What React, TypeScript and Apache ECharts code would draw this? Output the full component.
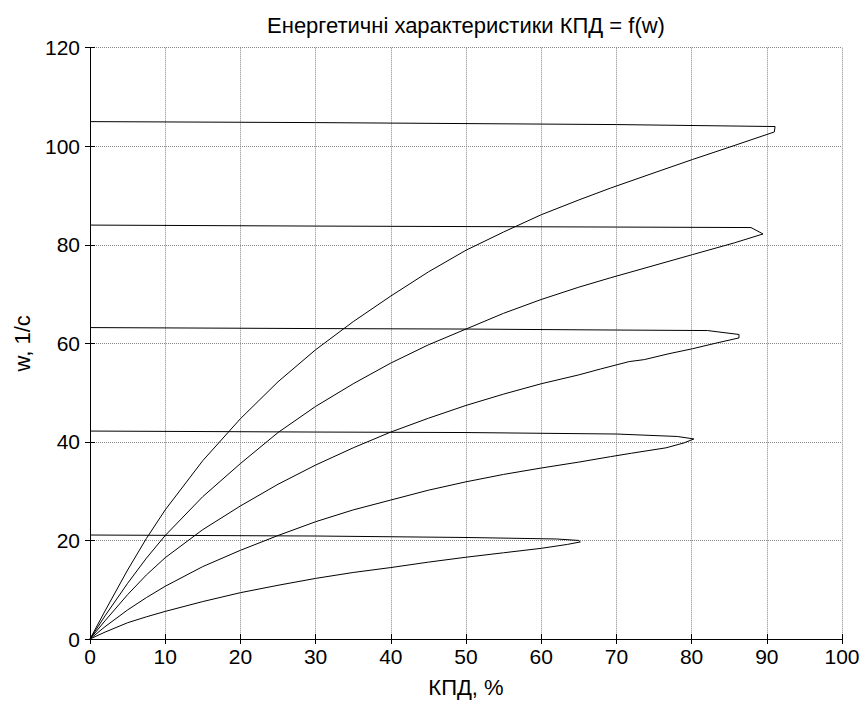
import React, { useEffect, useRef } from "react";
import * as echarts from "echarts";

// Efficiency (x, %) vs angular speed (y, 1/c) — five closed characteristics
const curve20: [number, number][] = [
  [0, 0], [2, 1.4], [5, 3.3], [7.5, 4.5], [10, 5.6], [15, 7.6], [20, 9.4], [25, 10.9], [30, 12.3],
  [35, 13.5], [40, 14.5], [45, 15.6], [50, 16.6], [55, 17.5], [60, 18.4], [63.5, 19.2],
  [65.2, 19.7], [65, 20.0], [62, 20.3], [50, 20.6], [30, 20.9], [0, 21.1],
];
const curve40: [number, number][] = [
  [0, 0], [2, 2.5], [5, 5.9], [7.5, 8.4], [10, 10.7], [15, 14.7], [20, 18], [25, 21], [30, 23.8],
  [35, 26.2], [40, 28.2], [45, 30.2], [50, 31.9], [55, 33.4], [60, 34.7], [65, 35.9],
  [69.2, 37], [72, 37.7], [76.6, 38.8], [79, 39.8], [80.3, 40.6], [78.1, 41.1],
  [70, 41.6], [50, 41.9], [30, 42.0], [0, 42.2],
];
const curve60: [number, number][] = [
  [0, 0], [2, 3.7], [5, 9], [7.5, 13], [10, 16.5], [15, 22.2], [20, 27], [25, 31.4], [30, 35.3],
  [35, 38.8], [40, 42], [45, 44.8], [50, 47.4], [55, 49.7], [60, 51.8], [65, 53.6],
  [67.9, 54.8], [71.7, 56.3], [73.7, 56.7], [77, 57.9], [80.1, 58.9], [83.4, 60.1],
  [86.3, 61.1], [86.3, 61.8], [82.1, 62.6], [70, 62.7], [50, 62.9], [30, 63.0], [0, 63.2],
];
const curve80: [number, number][] = [
  [0, 0], [2, 4.7], [5, 11.3], [7.5, 16.4], [10, 21], [15, 28.9], [20, 35.6], [25, 41.9], [30, 47.2],
  [35, 51.8], [40, 56], [45, 59.7], [50, 62.9], [55, 66.1], [60, 68.9], [65, 71.4],
  [69.2, 73.3], [75, 75.8], [80.1, 78], [85.7, 80.4], [89.5, 82.2], [87.9, 83.5],
  [70, 83.6], [50, 83.7], [30, 83.8], [0, 84],
];
const curve100: [number, number][] = [
  [0, 0], [2, 5.7], [5, 14], [7.5, 20.4], [10, 26.2], [15, 36.2], [20, 44.7], [25, 52.2], [30, 58.7],
  [35, 64.4], [40, 69.6], [45, 74.5], [50, 78.9], [55, 82.6], [60, 86.1], [65, 89.1],
  [69.2, 91.5], [75, 94.6], [80.1, 97.3], [85, 99.8], [91, 102.9], [91.1, 104.0],
  [70, 104.4], [50, 104.6], [30, 104.8], [0, 105],
];
const curves = [curve20, curve40, curve60, curve80, curve100];

const titleText = "Енергетичні характеристики КПД = f(w)";
const xName = "КПД, %";
const yName = "w, 1/c";

export default function App() {
  const ref = useRef<HTMLDivElement>(null);
  useEffect(() => {
    if (!ref.current) return;
    const chart = echarts.init(ref.current, undefined, { renderer: "svg" });
    const font = "Liberation Sans, Arial, sans-serif";
    const dotted = { show: true, lineStyle: { color: "#888", type: [1, 1] as any, width: 1 } };
    chart.setOption({
      animation: false,
      backgroundColor: "#fff",
      title: {
        text: titleText,
        left: 461,
        top: 9,
        textAlign: "center",
        textStyle: { fontFamily: font, fontSize: 22, fontWeight: "normal", color: "#000" },
      },
      grid: { left: 90, right: 22, top: 47.7, bottom: 63.5, containLabel: false },
      xAxis: [
        {
          type: "value", min: 0, max: 100, interval: 10,
          name: xName, nameLocation: "middle", nameGap: 37,
          nameTextStyle: { fontFamily: font, fontSize: 22, color: "#000" },
          axisLine: { show: true, onZero: false, lineStyle: { color: "#000", width: 1 } },
          axisTick: { show: true, inside: true, length: 5, lineStyle: { color: "#000" } },
          axisLabel: { fontFamily: font, fontSize: 21, color: "#000", margin: 7 },
          splitLine: dotted,
        },
        {
          type: "value", min: 0, max: 100, interval: 10, position: "top",
          axisLine: { show: false },
          axisTick: { show: true, inside: true, length: 5, lineStyle: { color: "#000" } },
          axisLabel: { show: false },
          splitLine: { show: false },
        },
      ],
      yAxis: [
        {
          type: "value", min: 0, max: 120, interval: 20,
          name: yName, nameLocation: "middle", nameGap: 57,
          nameTextStyle: { fontFamily: font, fontSize: 22, color: "#000" },
          axisLine: { show: true, onZero: false, lineStyle: { color: "#000", width: 1 } },
          axisTick: { show: true, inside: true, length: 5, lineStyle: { color: "#000" } },
          axisLabel: { fontFamily: font, fontSize: 21, color: "#000", margin: 10 },
          splitLine: dotted,
        },
        {
          type: "value", min: 0, max: 120, interval: 20, position: "right",
          axisLine: { show: false },
          axisTick: { show: true, inside: true, length: 5, lineStyle: { color: "#000" } },
          axisLabel: { show: false },
          splitLine: { show: false },
        },
      ],
      series: curves.map((c, i) => ({
        name: "c" + i,
        type: "line",
        data: c,
        showSymbol: false,
        symbol: "none",
        lineStyle: { color: "#000", width: 1 },
        xAxisIndex: 0,
        yAxisIndex: 0,
      })),
    });
    return () => chart.dispose();
  }, []);
  return (
    <div
      ref={ref}
      style={{ position: "absolute", left: 0, top: 0, width: 864, height: 703, background: "#fff" }}
    />
  );
}
